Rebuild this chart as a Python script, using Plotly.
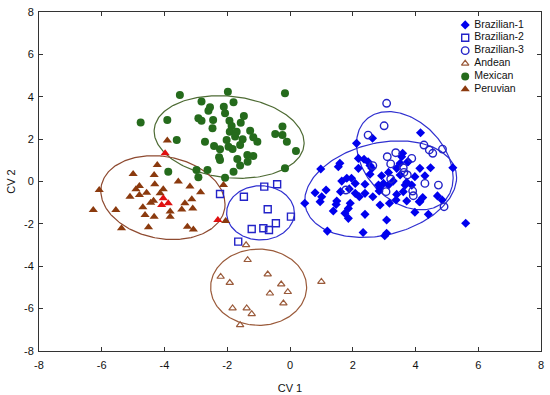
import numpy as np
import plotly.graph_objects as go

# ---------------- data ----------------
bra1_x = [2.63, 4.16, 2.12, 2.18, 2.36, 1.59, 1.54, 0.98, 2.49, 2.61, 2.18, 3.56, 3.51, 3.75, 3.40,
          2.55, 2.92, 3.14, 3.51, 3.98, 4.14, 1.81, 1.96, 1.65, 2.08, 2.39, 2.98, 2.87, 3.14, 3.29,
          3.72, 1.15, 0.80, 1.01, 0.96, 1.49, 1.47, 1.61, 1.89, 2.08, 2.39, 2.21, 2.64, 2.84, 3.40,
          3.61, 3.72, 3.38, 3.17, 2.87, 1.92, 1.86, 1.75, 1.38, 0.47, 2.39, 3.08, 1.86, 3.98, 1.19,
          2.33, 3.08, 3.02, 4.14, 2.82, 2.55, 3.59, 3.77, 4.48, 5.19, 4.30, 3.67, 3.88, 4.23, 4.12,
          4.70, 4.85, 4.41, 5.60]
bra1_y = [2.04, 2.30, 1.80, 1.09, 1.05, 0.86, 0.70, 0.59, 0.93, 0.62, 0.62, 1.17, 0.86, 0.93, 0.62,
          0.34, 0.27, 0.43, 0.31, 0.23, 0.62, 0.15, 0.15, 0.02, -0.09, -0.13, -0.09, -0.32, -0.17, 0.02,
          -0.04, -0.40, -0.53, -0.72, -0.95, -0.92, -1.08, -0.48, -0.35, -0.56, -0.56, -0.72, -0.72, -0.45, -0.61,
          -0.48, -0.92, -0.87, -1.03, -1.11, -1.03, -1.27, -1.50, -1.39, -1.03, -1.55, -1.82, -1.74, -1.45, -2.34,
          -2.41, -2.44, -2.56, -0.95, -0.17, 0.75, 1.33, 0.93, 0.65, 0.65, 0.27, -0.17, -0.17, -0.76, -0.95,
          -0.68, -0.87, -1.55, -1.97]

bra2_x = [-0.82, -0.41, -1.47, -2.23, -0.71, 0.03, -0.45, -1.22, -0.85, -0.67, -1.65]
bra2_y = [-0.24, -0.13, -0.72, -0.59, -1.31, -1.66, -1.97, -2.24, -2.21, -2.29, -2.84]

bra3_x = [3.08, 3.00, 2.49, 3.10, 3.37, 3.21, 3.88, 2.64, 3.63, 3.74, 3.21, 1.78, 3.06, 3.93, 4.27,
          4.44, 4.55, 4.86, 3.61, 4.30, 4.73, 3.91, 4.91]
bra3_y = [3.69, 2.63, 2.19, 1.17, 1.36, 0.83, 1.09, 0.75, 0.43, 0.31, 0.12, -0.40, -0.48, -0.67, 1.72,
          1.49, 1.33, 1.53, 0.65, -0.09, -0.17, -0.45, -1.19]

and_x = [-1.40, -1.35, -2.21, -1.92, -0.71, -0.28, -0.64, -0.07, -0.21, 1.00, -1.83, -1.38, -1.22, -1.59]
and_y = [-3.00, -3.70, -4.49, -4.78, -4.38, -4.85, -5.28, -5.21, -5.75, -4.73, -5.98, -5.98, -6.25, -6.77]

mex_x = [-3.51, -1.98, -0.16, -2.82, -1.80, -2.55, -2.11, -2.60, -2.07, -1.47, -2.92, -2.82, -3.91, -2.45,
         -1.93, -1.57, -2.47, -1.86, -1.92, -1.70, -1.27, -0.24, -0.47, -0.24, -1.75, -1.17, -1.51, -2.02,
         -1.04, -3.61, -2.71, -0.10, -1.59, -2.42, -1.96, -1.83, -2.23, 0.19, -1.36, -1.17, -2.26, -2.23,
         -1.68, -1.35, -1.59, -3.88, -2.98, -2.63, -1.80, -0.16, -2.92, -2.07, -4.76]
mex_y = [4.08, 4.24, 4.16, 3.77, 3.74, 3.50, 3.53, 3.34, 3.22, 3.09, 2.98, 2.87, 2.90, 2.90,
         2.87, 2.77, 2.51, 2.62, 2.35, 2.35, 2.40, 2.59, 2.24, 2.19, 2.12, 2.09, 1.99, 1.96,
         1.88, 1.96, 1.88, 1.88, 1.72, 1.68, 1.64, 1.53, 1.52, 1.44, 1.25, 1.20, 1.14, 1.01,
         1.06, 0.93, 0.75, 0.46, 0.54, 0.54, 0.46, 0.62, 0.20, 0.18, 2.79]

per_x = [-3.98, -4.23, -5.00, -4.33, -3.56, -4.31, -4.80, -4.91, -4.04, -3.19, -2.85, -6.08, -4.57, -4.14,
         -4.80, -5.10, -4.04, -4.35, -4.44, -3.13, -3.88, -4.09, -3.35, -4.69, -3.45, -3.10, -3.82, -6.27,
         -5.55, -4.62, -4.33, -3.82, -4.51, -5.37, -3.27, -3.08, -2.12, -2.05, -2.30, -3.91]
per_y = [1.33, 0.78, 0.35, 0.31, 0.00, -0.13, -0.21, -0.37, -0.37, -0.24, -0.51, -0.40, -0.53, -0.56,
         -0.64, -0.72, -0.79, -0.91, -1.00, -0.84, -1.03, -1.11, -1.03, -1.22, -1.32, -1.27, -1.42, -1.35,
         -1.35, -1.58, -1.66, -1.66, -2.16, -2.21, -2.13, -2.26, -0.17, -1.86, -1.82, 1.93]

# confidence ellipses: centre, x half-extent, y half-extent, correlation
ell_cx = [2.89, -0.94, 3.66, -1.00, -1.94, -4.05]
ell_cy = [-0.36, -1.48, 0.98, -4.99, 2.10, -0.76]
ell_sx = [2.42, 1.08, 1.54, 1.53, 2.39, 1.98]
ell_sy = [2.28, 1.28, 2.32, 1.80, 1.95, 1.98]
ell_rho = [0.24, 0.0, -0.34, 0.0, -0.14, -0.16]

x_ticks = [-8, -6, -4, -2, 0, 2, 4, 6, 8]
y_ticks = [-8, -6, -4, -2, 0, 2, 4, 6, 8]

# ---------------- styles ----------------
FONT = "Liberation Sans, Arial, sans-serif"
BLUE = "#0000EE"
BLUE2 = "#2323C8"
ELL_BLUE = "#3030D0"
GREEN = "#256B1C"
ELL_GREEN = "#4E6B34"
BROWN = "#8B3A0E"
RED = "#E01010"
ELL_BROWN = "#8E4A30"
AND_BROWN = "#9A5A3A"

# Peruvian points drawn in red in the reference (style only)
per_red_idx = {0, 16, 20, 21, 38}
per_colors = [RED if i in per_red_idx else BROWN for i in range(len(per_x))]

groups = [
    ("Brazilian-1", bra1_x, bra1_y, dict(symbol="diamond", size=7, color=BLUE), ELL_BLUE),
    ("Brazilian-2", bra2_x, bra2_y, dict(symbol="square-open", size=7, color=BLUE2, line=dict(width=1.4)), ELL_BLUE),
    ("Brazilian-3", bra3_x, bra3_y, dict(symbol="circle-open", size=7.5, color=BLUE2, line=dict(width=1.4)), ELL_BLUE),
    ("Andean", and_x, and_y, dict(symbol="triangle-up-open", size=6.5, color=AND_BROWN, line=dict(width=1.2)), AND_BROWN),
    ("Mexican", mex_x, mex_y, dict(symbol="circle", size=8, color=GREEN), ELL_GREEN),
    ("Peruvian", per_x, per_y, dict(symbol="triangle-up", size=8, color=BROWN), ELL_BROWN),
]

fig = go.Figure()

t = np.linspace(0, 2 * np.pi, 241)
for i, (name, gx, gy, mk, ec) in enumerate(groups):
    r = ell_rho[i]
    ex = ell_cx[i] + ell_sx[i] * np.cos(t)
    ey = ell_cy[i] + ell_sy[i] * (r * np.cos(t) + np.sqrt(1 - r * r) * np.sin(t))
    fig.add_trace(go.Scatter(x=ex, y=ey, mode="lines", line=dict(color=ec, width=1.2),
                             showlegend=False, hoverinfo="skip"))

for name, gx, gy, mk, ec in groups:
    m = dict(mk)
    if name == "Peruvian":
        m["color"] = per_colors
    fig.add_trace(go.Scatter(x=gx, y=gy, mode="markers", name=name, marker=m, showlegend=False))

# compact legend on an overlay axis spanning the plot area (0..1)
leg_mx = 0.849
leg_tx = 0.867
leg_y0 = 0.962
leg_step = 0.038
for k, (name, gx, gy, mk, ec) in enumerate(groups):
    yk = leg_y0 - k * leg_step
    fig.add_trace(go.Scatter(x=[leg_mx], y=[yk], xaxis="x2", yaxis="y2", mode="markers",
                             marker=mk, showlegend=False, hoverinfo="skip", cliponaxis=False))
    fig.add_trace(go.Scatter(x=[leg_tx], y=[yk], xaxis="x2", yaxis="y2", mode="text",
                             text=[name], textposition="middle right",
                             textfont=dict(family=FONT, size=10.5, color="#111"),
                             showlegend=False, hoverinfo="skip", cliponaxis=False))

axis_common = dict(showgrid=False, zeroline=False, showline=True, linecolor="#333", linewidth=1,
                   mirror="ticks", ticks="inside", ticklen=4, tickcolor="#333", automargin=False,
                   tickfont=dict(family=FONT, size=11, color="#111"))

fig.update_layout(
    width=550, height=395,
    margin=dict(l=39, r=9, t=12, b=44),
    paper_bgcolor="white", plot_bgcolor="white",
    showlegend=False,
    xaxis=dict(range=[-8, 8], tickvals=x_ticks, ticktext=[str(v) for v in x_ticks],
               ticklabelstandoff=4,
               title=dict(text="CV 1", font=dict(family=FONT, size=11, color="#111"), standoff=14),
               **axis_common),
    yaxis=dict(range=[-8, 8], tickvals=y_ticks, ticktext=[str(v) for v in y_ticks],
               ticklabelstandoff=2,
               title=dict(text="CV 2", font=dict(family=FONT, size=11, color="#111"), standoff=6),
               **axis_common),
    xaxis2=dict(range=[0, 1], overlaying="x", visible=False, fixedrange=True),
    yaxis2=dict(range=[0, 1], overlaying="y", visible=False, fixedrange=True),
)

fig.write_html("out.html", config={"displayModeBar": False},
               post_script="document.body.style.margin='0';document.body.style.overflow='hidden';")
